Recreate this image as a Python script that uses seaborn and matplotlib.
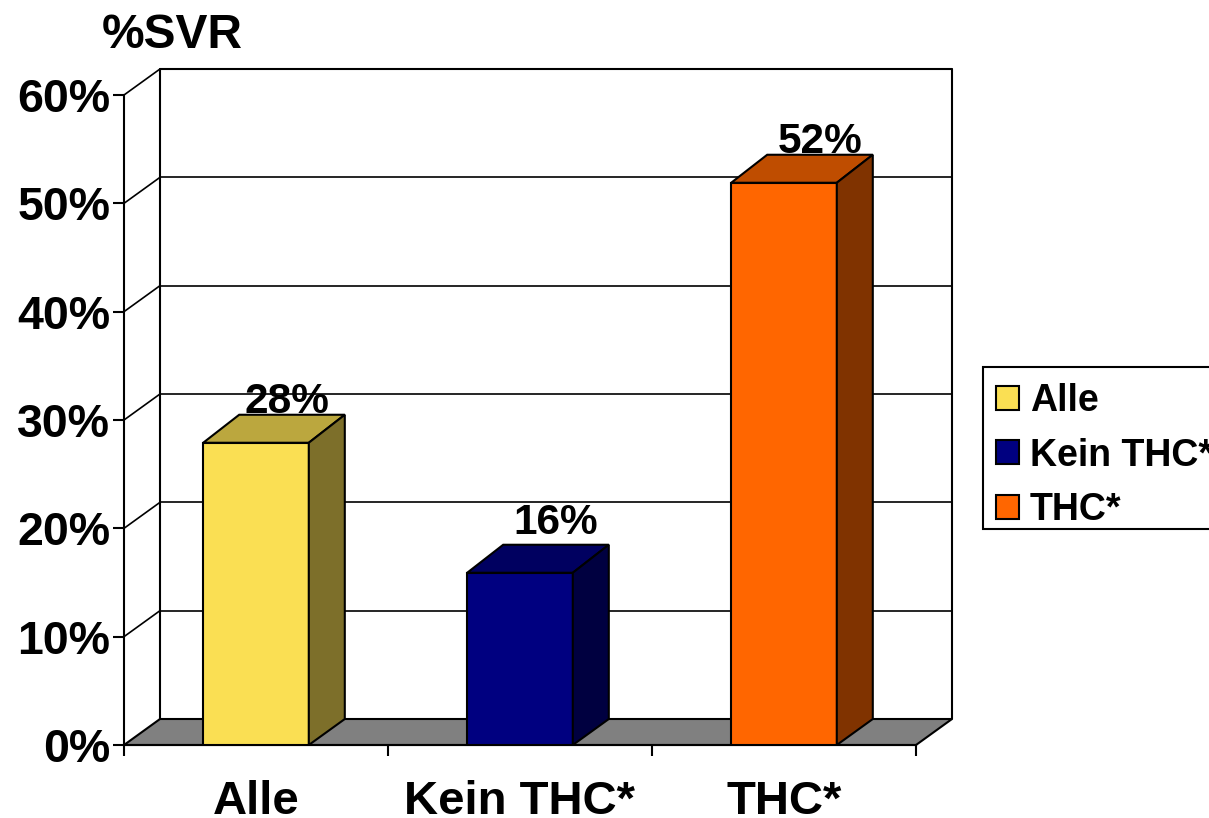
import numpy as np
import pandas as pd
import matplotlib.pyplot as plt
import seaborn as sns
from matplotlib.patches import Polygon, Rectangle

categories = ["Alle", "Kein THC*", "THC*"]
values = [27.9, 15.9, 51.9]
value_labels = ["28%", "16%", "52%"]
y_ticks = [0, 10, 20, 30, 40, 50, 60]
y_tick_labels = ["0%", "10%", "20%", "30%", "40%", "50%", "60%"]
front_colors = ["#FADF53", "#000080", "#FF6600"]
top_colors = ["#BBA73E", "#000060", "#BF4D00"]
side_colors = ["#7D6F2A", "#000040", "#803300"]
# small shifts of the value labels, in points
label_nudge = [(-3.5, 0), (0, 6), (0, -0.5)]

W, H = 1209, 818
sns.set_style("white")
plt.rcParams['font.family'] = ['Liberation Sans', 'DejaVu Sans']
plt.rcParams['font.weight'] = 'bold'
plt.rcParams['text.color'] = 'black'

fig = plt.figure(figsize=(W / 100, H / 100), dpi=100, facecolor="white")
ax = fig.add_axes([124 / W, (H - 745) / H, 792 / W, 650 / H])

df = pd.DataFrame({"cat": categories, "val": values})
sns.barplot(data=df, x="cat", y="val", hue="cat", palette=front_colors, width=0.4, saturation=1,
            dodge=False, edgecolor="black", linewidth=1.5, zorder=3, ax=ax, legend=True)

ax.set_xlim(-0.5, 2.5)
ax.set_ylim(0, 60)
ax.patch.set_alpha(0)
ax.set_xlabel("")
ax.set_ylabel("")

# depth of the fake 3D box, in data units
dx = 36 / 264
dy = 26 / 650 * 60
bar_dy = 28 / 650 * 60
x0, x1 = ax.get_xlim()

# floor and back wall
ax.add_patch(Polygon([(x0, 0), (x1, 0), (x1 + dx, dy), (x0 + dx, dy)], closed=True,
                     fc="#808080", ec="black", lw=1.5, clip_on=False, zorder=1))
ax.plot([x0 + dx, x0 + dx, x1 + dx, x1 + dx], [dy, 60 + dy, 60 + dy, dy],
        color="black", lw=1.5, clip_on=False, zorder=1)
for t in y_ticks[1:]:
    ax.plot([x0 + dx, x1 + dx], [t + dy, t + dy], color="black", lw=1.2, clip_on=False, zorder=1)
    ax.plot([x0, x0 + dx], [t, t + dy], color="black", lw=1.2, clip_on=False, zorder=1)

# top and side faces of the bars
for i, bar in enumerate(ax.patches[:3]):
    bx0 = bar.get_x()
    bx1 = bx0 + bar.get_width()
    h = bar.get_height()
    ax.add_patch(Polygon([(bx0, h), (bx1, h), (bx1 + dx, h + bar_dy), (bx0 + dx, h + bar_dy)], closed=True,
                         fc=top_colors[i], ec="black", lw=1.5, clip_on=False, zorder=3))
    ax.add_patch(Polygon([(bx1, 0), (bx1 + dx, dy), (bx1 + dx, h + bar_dy), (bx1, h)], closed=True,
                         fc=side_colors[i], ec="black", lw=1.5, clip_on=False, zorder=3))
    ax.annotate(value_labels[i], xy=(i + dx, h + bar_dy),
                xytext=(label_nudge[i][0], 1.5 + label_nudge[i][1]), textcoords="offset points",
                ha="center", va="baseline", fontsize=30.5, fontweight="bold", color="black", zorder=4)

# axes lines and ticks
sns.despine(ax=ax, top=True, right=True)
for s in ["left", "bottom"]:
    ax.spines[s].set_color("black")
    ax.spines[s].set_linewidth(1.5)
ax.set_yticks(y_ticks)
ax.set_yticklabels(y_tick_labels)
ax.set_xticks(range(3))
ax.set_xticklabels(categories)
ax.set_xticks([-0.5, 0.5, 1.5, 2.5], minor=True)
ax.tick_params(axis="y", left=True, length=8, width=1.5, color="black", pad=2, labelsize=33.5)
ax.tick_params(axis="x", which="major", bottom=False, length=0, pad=25.5, labelsize=34)
ax.tick_params(axis="x", which="minor", bottom=True, length=8, width=1.5, color="black")
for lab in ax.get_xticklabels() + ax.get_yticklabels():
    lab.set_fontweight("bold")
    lab.set_color("black")

fig.text(172 / W, 1 - 48 / H, "%SVR", ha="center", va="baseline", fontsize=34.5, fontweight="bold", color="black")

# legend box runs off the right edge, like the original
fig.add_artist(Rectangle((983 / W, (H - 529) / H), 240 / W, 162 / H, transform=fig.transFigure,
                         fc="white", ec="black", lw=1.5, zorder=-1))
sns.move_legend(ax, "upper left", bbox_to_anchor=(981 / W, 1 - 368 / H), bbox_transform=fig.transFigure,
                title=None, frameon=False, borderaxespad=0, borderpad=0.4, labelspacing=0.495,
                handlelength=0.6, handleheight=0.6, handletextpad=0.3, prop={"weight": "bold", "size": 27})
for txt in ax.get_legend().get_texts():
    txt.set_color("black")

fig.savefig("out.png", dpi=100)
